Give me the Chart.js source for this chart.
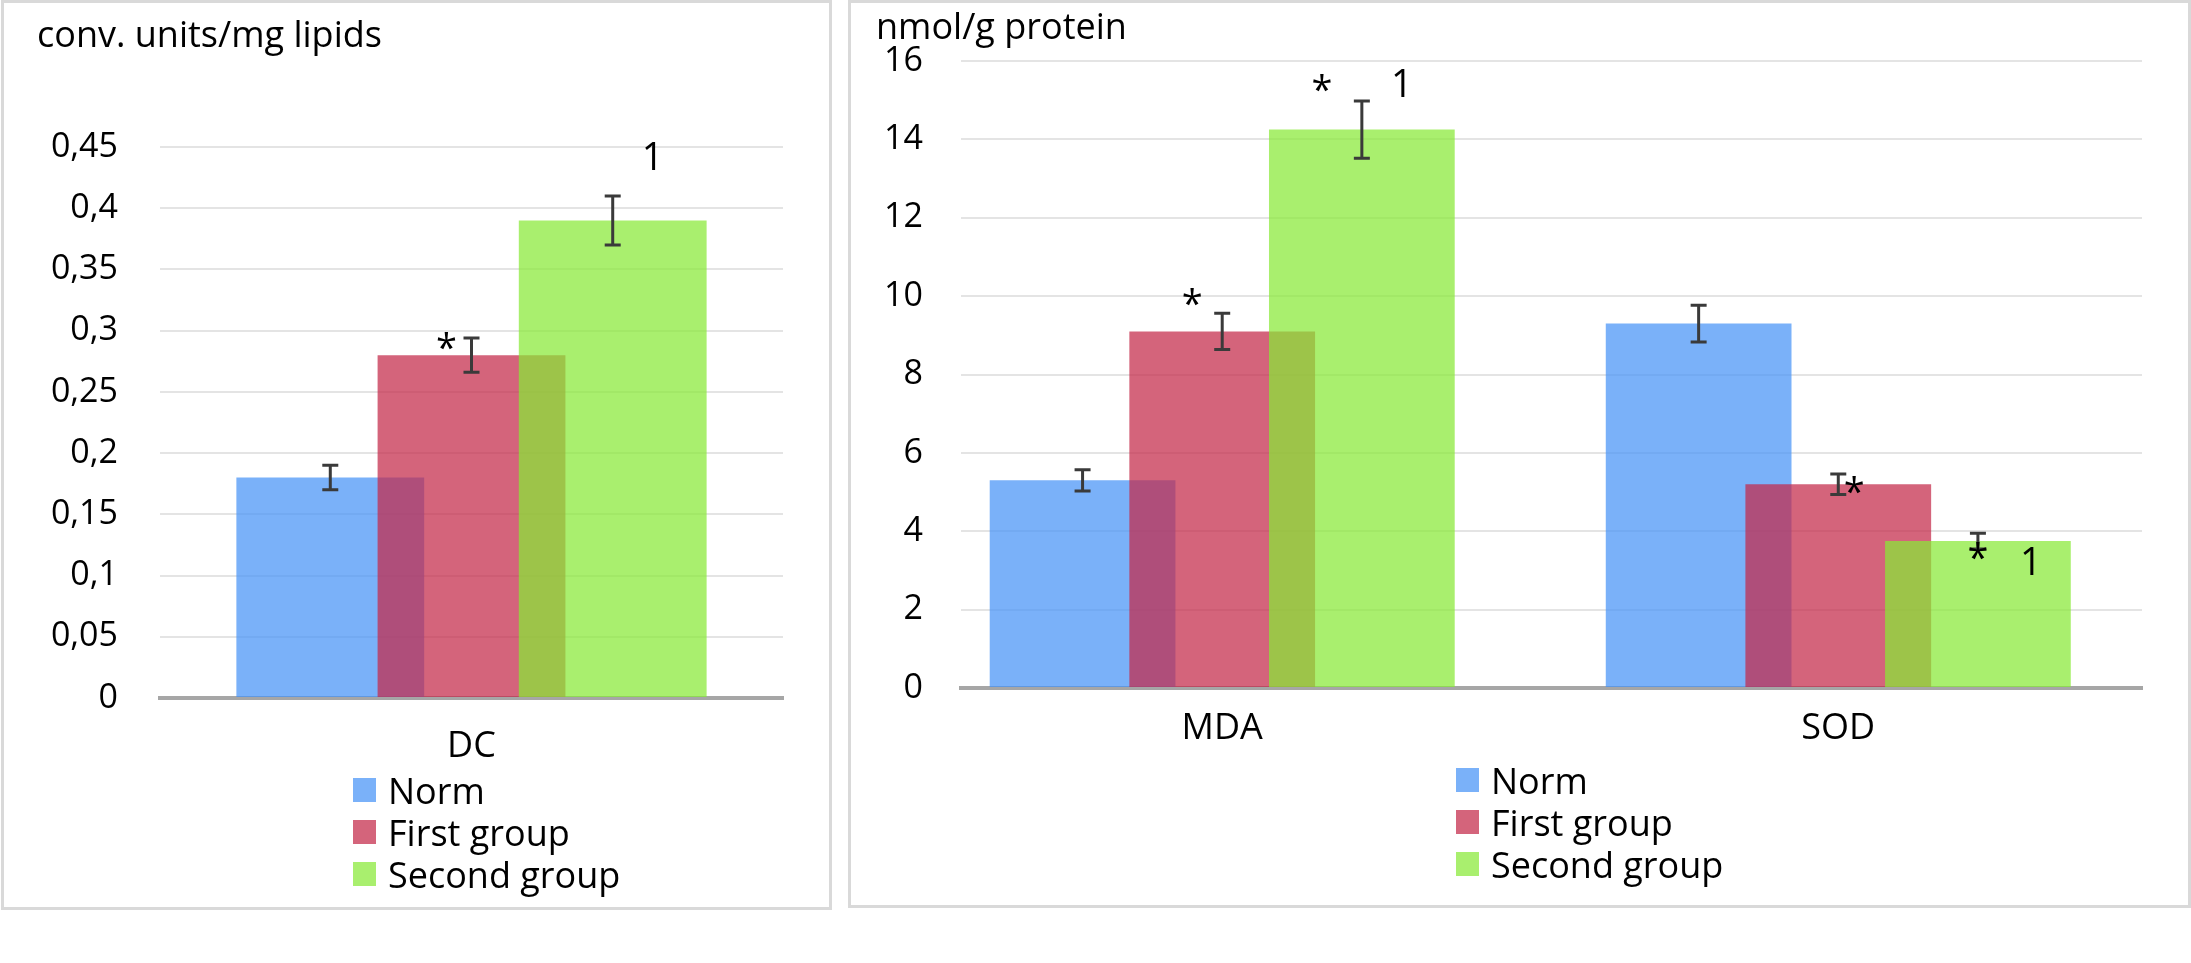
<!DOCTYPE html>
<html>
<head>
<meta charset="utf-8">
<script src="https://cdn.jsdelivr.net/npm/chart.js@4"></script>
<style>
  body { margin: 0; background: #fff; width: 2191px; height: 963px; position: relative; overflow: hidden; font-family: "Open Sans", sans-serif; }
  .panel { position: absolute; border: 3px solid #d9d9d9; box-sizing: border-box; }
  .box { position: absolute; top: 0; }
  .title { position: absolute; font-size: 36px; color: #000; white-space: nowrap; line-height: 1; }
  .legend { position: absolute; font-size: 36px; color: #000; }
  .legend .row { display: flex; align-items: center; height: 42px; white-space: nowrap; }
  .legend .sw { display: inline-block; width: 23px; height: 24px; margin-right: 12px; }
</style>
</head>
<body>
<div class="panel" style="left:1px;top:0;width:831px;height:910px"></div>
<div class="panel" style="left:848px;top:0;width:1343px;height:908px"></div>

<div class="box" style="left:0"><canvas id="dc" width="840" height="910"></canvas></div>
<div class="box" style="left:850px"><canvas id="mda" width="1341" height="910"></canvas></div>

<div class="title" style="left:37px;top:16px">conv. units/mg lipids</div>
<div class="title" style="left:876px;top:8px">nmol/g protein</div>

<div class="legend" id="legLeft" style="left:353px;top:769px"></div>
<div class="legend" id="legRight" style="left:1456px;top:759px"></div>

<script>
const seriesNames = ['Norm', 'First group', 'Second group'];
const seriesColors = ['rgba(70, 147, 247, 0.72)', 'rgba(195, 40, 72, 0.72)', 'rgba(136, 233, 54, 0.72)'];

// left chart: diene conjugates
const dcCategories = ['DC'];
const dcNorm = [0.18];
const dcFirst = [0.28];
const dcSecond = [0.39];
const dcNormErr = [0.01];
const dcFirstErr = [0.014];
const dcSecondErr = [0.02];

// right chart
const rightCategories = ['MDA', 'SOD'];
const norm = [5.3, 9.3];
const first = [9.1, 5.2];
const second = [14.25, 3.75];
const normErr = [0.27, 0.47];
const firstErr = [0.46, 0.26];
const secondErr = [0.73, 0.2];

// significance marks: series index, category index, text
const dcMarkSeries = [1, 2];
const dcMarkCat = [0, 0];
const dcMarkText = ['*', '1'];
const rightMarkSeries = [1, 2, 2, 1, 2, 2];
const rightMarkCat = [0, 0, 0, 1, 1, 1];
const rightMarkText = ['*', '*', '1', '*', '*', '1'];
// offsets of each mark from its error bar top (px)
const dcMarkOffsets = [[-25, 12], [40, -37]];
const rightMarkOffsets = [[-30, -7], [-40, -9], [40, -15], [16, 20], [0, 27], [53, 31]];

const fontFamily = '"Open Sans", sans-serif';

function buildLegend(id) {
  const el = document.getElementById(id);
  seriesNames.forEach((n, i) => {
    const row = document.createElement('div');
    row.className = 'row';
    const sw = document.createElement('span');
    sw.className = 'sw';
    sw.style.background = seriesColors[i];
    row.appendChild(sw);
    row.appendChild(document.createTextNode(n));
    el.appendChild(row);
  });
}
buildLegend('legLeft');
buildLegend('legRight');

function overlay(values, errors, markSeries, markCat, markText, markOffsets) {
  return {
    id: 'overlay',
    beforeDatasetDraw() { return false; },
    afterDatasetsDraw(chart) {
      const ctx = chart.ctx;
      const ys = chart.scales.y;
      // draw in dataset order so later groups lie on top
      for (let i = 0; i < chart.data.datasets.length; i++) {
        chart.getDatasetMeta(i).controller.draw();
      }
      ctx.save();
      ctx.strokeStyle = '#3a3a3a';
      ctx.lineWidth = 3;
      const tops = [];
      values.forEach((vals, i) => {
        const meta = chart.getDatasetMeta(i);
        tops.push([]);
        vals.forEach((v, j) => {
          const x = meta.data[j].x;
          const y1 = ys.getPixelForValue(v + errors[i][j]);
          const y2 = ys.getPixelForValue(v - errors[i][j]);
          tops[i].push(y1);
          ctx.beginPath();
          ctx.moveTo(x, y1); ctx.lineTo(x, y2);
          ctx.moveTo(x - 8, y1); ctx.lineTo(x + 8, y1);
          ctx.moveTo(x - 8, y2); ctx.lineTo(x + 8, y2);
          ctx.stroke();
        });
      });
      ctx.fillStyle = '#000';
      ctx.textAlign = 'center';
      ctx.textBaseline = 'middle';
      ctx.font = '38px ' + fontFamily;
      markText.forEach((t, k) => {
        const s = markSeries[k], c = markCat[k];
        const x = chart.getDatasetMeta(s).data[c].x + markOffsets[k][0];
        const y = tops[s][c] + markOffsets[k][1];
        ctx.fillText(t, x, y);
      });
      ctx.restore();
    }
  };
}

function makeDatasets(arrs, toPoints) {
  return arrs.map((d, i) => ({
    label: seriesNames[i],
    data: toPoints ? d.map((v, j) => ({ x: j, y: v })) : d,
    backgroundColor: seriesColors[i],
    borderWidth: 0,
    categoryPercentage: 0.68,
    barPercentage: 1.33
  }));
}

function yScale(max, step, width, pad) {
  return {
    min: 0, max: max,
    ticks: {
      stepSize: step, padding: pad, color: '#000',
      font: { family: fontFamily, size: 34 },
      callback: v => String(+v.toFixed(2)).replace('.', ',')
    },
    grid: { color: '#e4e4e4', lineWidth: 2, drawTicks: false },
    border: { display: false },
    afterFit: s => { s.width = width; s.paddingTop = 0; s.paddingBottom = 0; }
  };
}

function xBase(pad) {
  return {
    ticks: { color: '#000', padding: pad, font: { family: fontFamily, size: 36 } },
    grid: { display: false, drawTicks: false },
    border: { color: '#a6a6a6', width: 4 },
    afterFit: s => { s.height = 60; s.paddingLeft = 0; s.paddingRight = 0; }
  };
}

Chart.defaults.animation = false;

new Chart(document.getElementById('dc'), {
  type: 'bar',
  data: {
    labels: dcCategories,
    datasets: makeDatasets([dcNorm, dcFirst, dcSecond], false)
  },
  options: {
    responsive: false,
    layout: { padding: { left: 0, right: 57, top: 147, bottom: 152 } },
    plugins: { legend: { display: false }, tooltip: { enabled: false } },
    scales: {
      x: xBase(27),
      y: yScale(0.45, 0.05, 160, 42)
    }
  },
  plugins: [overlay([dcNorm, dcFirst, dcSecond], [dcNormErr, dcFirstErr, dcSecondErr],
    dcMarkSeries, dcMarkCat, dcMarkText, dcMarkOffsets)]
});

const xRight = xBase(19);
new Chart(document.getElementById('mda'), {
  type: 'bar',
  data: {
    datasets: makeDatasets([norm, first, second], true)
  },
  options: {
    responsive: false,
    layout: { padding: { left: 0, right: 49, top: 61, bottom: 162 } },
    plugins: { legend: { display: false }, tooltip: { enabled: false } },
    scales: {
      x: Object.assign({}, xRight, {
        type: 'linear', offset: false, min: -0.424, max: 1.493,
        afterBuildTicks: s => { s.ticks = rightCategories.map((c, i) => ({ value: i })); },
        ticks: Object.assign({}, xRight.ticks, { callback: v => rightCategories[v] })
      }),
      y: yScale(16, 2, 111, 38)
    }
  },
  plugins: [overlay([norm, first, second], [normErr, firstErr, secondErr],
    rightMarkSeries, rightMarkCat, rightMarkText, rightMarkOffsets)]
});
</script>
</body>
</html>
